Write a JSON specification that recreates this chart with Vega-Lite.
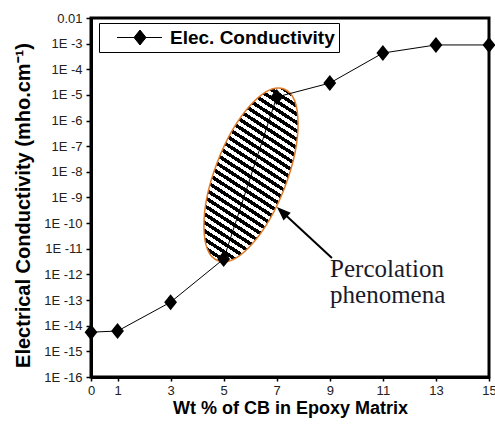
{
  "$schema": "https://vega.github.io/schema/vega-lite/v6.json",
  "width": 398,
  "height": 359,
  "autosize": "none",
  "padding": {"left": 91, "top": 18, "right": 6, "bottom": 57},
  "background": "white",
  "config": {
    "view": {"stroke": "black", "strokeWidth": 3},
    "font": "Liberation Sans",
    "axis": {
      "grid": false,
      "domainColor": "black",
      "domainWidth": 3,
      "tickColor": "black",
      "tickWidth": 1.5,
      "labelFont": "Liberation Sans",
      "labelFontSize": 13,
      "labelColor": "#222",
      "titleFont": "Liberation Sans",
      "titleFontWeight": "bold",
      "titleColor": "black"
    }
  },
  "layer": [
    {
      "data": {"values": [{"wt": 6.03, "ec": 7.6e-9}]},
      "mark": {
        "type": "point",
        "filled": true,
        "opacity": 1,
        "shape": "M0.330,-0.859A0.92,0.36,-69,0,1,0.336,0.129A0.92,0.36,-69,0,1,-0.330,0.859A0.92,0.36,-69,0,1,-0.336,-0.129A0.92,0.36,-69,0,1,0.330,-0.859Z",
        "size": 40000,
        "stroke": "#E07B28",
        "strokeWidth": 1.5,
        "strokeOpacity": 1,
        "fillOpacity": 1,
        "fill": {
          "gradient": "linear",
          "x1": 0.711, "y1": -0.102, "x2": 0.289, "y2": 1.102,
          "stops": [
            {"offset": 0, "color": "black"}, {"offset": 0.0179, "color": "black"}, {"offset": 0.0179, "color": "white"}, {"offset": 0.0357, "color": "white"},
            {"offset": 0.0357, "color": "black"}, {"offset": 0.0536, "color": "black"}, {"offset": 0.0536, "color": "white"}, {"offset": 0.0714, "color": "white"},
            {"offset": 0.0714, "color": "black"}, {"offset": 0.0893, "color": "black"}, {"offset": 0.0893, "color": "white"}, {"offset": 0.1071, "color": "white"},
            {"offset": 0.1071, "color": "black"}, {"offset": 0.125, "color": "black"}, {"offset": 0.125, "color": "white"}, {"offset": 0.1429, "color": "white"},
            {"offset": 0.1429, "color": "black"}, {"offset": 0.1607, "color": "black"}, {"offset": 0.1607, "color": "white"}, {"offset": 0.1786, "color": "white"},
            {"offset": 0.1786, "color": "black"}, {"offset": 0.1964, "color": "black"}, {"offset": 0.1964, "color": "white"}, {"offset": 0.2143, "color": "white"},
            {"offset": 0.2143, "color": "black"}, {"offset": 0.2321, "color": "black"}, {"offset": 0.2321, "color": "white"}, {"offset": 0.25, "color": "white"},
            {"offset": 0.25, "color": "black"}, {"offset": 0.2679, "color": "black"}, {"offset": 0.2679, "color": "white"}, {"offset": 0.2857, "color": "white"},
            {"offset": 0.2857, "color": "black"}, {"offset": 0.3036, "color": "black"}, {"offset": 0.3036, "color": "white"}, {"offset": 0.3214, "color": "white"},
            {"offset": 0.3214, "color": "black"}, {"offset": 0.3393, "color": "black"}, {"offset": 0.3393, "color": "white"}, {"offset": 0.3571, "color": "white"},
            {"offset": 0.3571, "color": "black"}, {"offset": 0.375, "color": "black"}, {"offset": 0.375, "color": "white"}, {"offset": 0.3929, "color": "white"},
            {"offset": 0.3929, "color": "black"}, {"offset": 0.4107, "color": "black"}, {"offset": 0.4107, "color": "white"}, {"offset": 0.4286, "color": "white"},
            {"offset": 0.4286, "color": "black"}, {"offset": 0.4464, "color": "black"}, {"offset": 0.4464, "color": "white"}, {"offset": 0.4643, "color": "white"},
            {"offset": 0.4643, "color": "black"}, {"offset": 0.4821, "color": "black"}, {"offset": 0.4821, "color": "white"}, {"offset": 0.5, "color": "white"},
            {"offset": 0.5, "color": "black"}, {"offset": 0.5179, "color": "black"}, {"offset": 0.5179, "color": "white"}, {"offset": 0.5357, "color": "white"},
            {"offset": 0.5357, "color": "black"}, {"offset": 0.5536, "color": "black"}, {"offset": 0.5536, "color": "white"}, {"offset": 0.5714, "color": "white"},
            {"offset": 0.5714, "color": "black"}, {"offset": 0.5893, "color": "black"}, {"offset": 0.5893, "color": "white"}, {"offset": 0.6071, "color": "white"},
            {"offset": 0.6071, "color": "black"}, {"offset": 0.625, "color": "black"}, {"offset": 0.625, "color": "white"}, {"offset": 0.6429, "color": "white"},
            {"offset": 0.6429, "color": "black"}, {"offset": 0.6607, "color": "black"}, {"offset": 0.6607, "color": "white"}, {"offset": 0.6786, "color": "white"},
            {"offset": 0.6786, "color": "black"}, {"offset": 0.6964, "color": "black"}, {"offset": 0.6964, "color": "white"}, {"offset": 0.7143, "color": "white"},
            {"offset": 0.7143, "color": "black"}, {"offset": 0.7321, "color": "black"}, {"offset": 0.7321, "color": "white"}, {"offset": 0.75, "color": "white"},
            {"offset": 0.75, "color": "black"}, {"offset": 0.7679, "color": "black"}, {"offset": 0.7679, "color": "white"}, {"offset": 0.7857, "color": "white"},
            {"offset": 0.7857, "color": "black"}, {"offset": 0.8036, "color": "black"}, {"offset": 0.8036, "color": "white"}, {"offset": 0.8214, "color": "white"},
            {"offset": 0.8214, "color": "black"}, {"offset": 0.8393, "color": "black"}, {"offset": 0.8393, "color": "white"}, {"offset": 0.8571, "color": "white"},
            {"offset": 0.8571, "color": "black"}, {"offset": 0.875, "color": "black"}, {"offset": 0.875, "color": "white"}, {"offset": 0.8929, "color": "white"},
            {"offset": 0.8929, "color": "black"}, {"offset": 0.9107, "color": "black"}, {"offset": 0.9107, "color": "white"}, {"offset": 0.9286, "color": "white"},
            {"offset": 0.9286, "color": "black"}, {"offset": 0.9464, "color": "black"}, {"offset": 0.9464, "color": "white"}, {"offset": 0.9643, "color": "white"},
            {"offset": 0.9643, "color": "black"}, {"offset": 0.9821, "color": "black"}, {"offset": 0.9821, "color": "white"}, {"offset": 1, "color": "white"}
          ]
        }
      },
      "encoding": {
        "x": {"field": "wt", "type": "quantitative", "scale": {"domain": [0, 15], "nice": false, "zero": false},
          "axis": {"title": "Wt % of CB in Epoxy Matrix", "values": [0, 1, 3, 5, 7, 9, 11, 13, 15], "tickSize": 4, "labelPadding": 3, "titleFontSize": 18, "titlePadding": 2, "labelFlush": false}},
        "y": {"field": "ec", "type": "quantitative", "scale": {"type": "log", "domain": [1e-16, 0.01], "nice": false},
          "axis": {"title": "Electrical Conductivity (mho.cm⁻¹)", "values": [1e-16, 1e-15, 1e-14, 1e-13, 1e-12, 1e-11, 1e-10, 1e-9, 1e-8, 1e-7, 1e-6, 1e-5, 1e-4, 1e-3, 1e-2],
            "labelExpr": "datum.value > 0.005 ? '0.01' : '1E -' + round(-log(datum.value)/LN10)", "tickSize": 5, "labelPadding": 4, "titleFontSize": 20, "titlePadding": 10, "titleY": 187, "labelFlush": false}}
      }
    },
    {
      "data": {"name": "main", "values": [
        {"wt": 0, "ec": 5.6e-15, "s": "Elec. Conductivity"},
        {"wt": 1, "ec": 6.2e-15, "s": "Elec. Conductivity"},
        {"wt": 3, "ec": 8.3e-14, "s": "Elec. Conductivity"},
        {"wt": 5, "ec": 4e-12, "s": "Elec. Conductivity"},
        {"wt": 7, "ec": 8.3e-6, "s": "Elec. Conductivity"},
        {"wt": 9, "ec": 2.9e-5, "s": "Elec. Conductivity"},
        {"wt": 11, "ec": 4.3e-4, "s": "Elec. Conductivity"},
        {"wt": 13, "ec": 8.9e-4, "s": "Elec. Conductivity"},
        {"wt": 15, "ec": 8.9e-4, "s": "Elec. Conductivity"}
      ]},
      "layer": [
        {
          "mark": {"type": "line", "color": "black", "strokeWidth": 1},
          "encoding": {
            "x": {"field": "wt", "type": "quantitative"},
            "y": {"field": "ec", "type": "quantitative"}
          }
        },
        {
          "mark": {"type": "point", "filled": true, "opacity": 1, "shape": "M0,-1L0.8,0L0,1L-0.8,0Z", "size": 256},
          "encoding": {
            "x": {"field": "wt", "type": "quantitative"},
            "y": {"field": "ec", "type": "quantitative"},
            "color": {"field": "s", "type": "nominal", "scale": {"range": ["black"]},
              "legend": {
                "title": null,
                "orient": "none",
                "legendX": 8,
                "legendY": 5,
                "padding": 4,
                "strokeColor": "black",
                "fillColor": "white",
                "symbolType": "M-2.3,0H2.2M0,-0.75L0.6,0L0,0.75L-0.6,0Z",
                "symbolSize": 400,
                "symbolStrokeColor": "black",
                "symbolFillColor": "black",
                "symbolStrokeWidth": 1,
                "symbolOffset": 26.5,
                "labelOffset": 19.5,
                "labelLimit": 400,
                "labelFont": "Liberation Sans",
                "labelFontWeight": "bold",
                "labelFontSize": 19,
                "labelColor": "black"
              }}
          }
        }
      ]
    },
    {
      "data": {"values": [{"wt": 9.08, "ec": 4.4e-12, "wt2": 7.34, "ec2": 2.04e-10}]},
      "mark": {"type": "rule", "color": "black", "strokeWidth": 2},
      "encoding": {
        "x": {"field": "wt", "type": "quantitative"},
        "y": {"field": "ec", "type": "quantitative"},
        "x2": {"field": "wt2"},
        "y2": {"field": "ec2"}
      }
    },
    {
      "data": {"values": [{"wt": 7.2, "ec": 2.75e-10}]},
      "mark": {"type": "point", "filled": true, "opacity": 1, "color": "black", "shape": "M0,-1L0.75,1L-0.75,1Z", "size": 196, "angle": 313},
      "encoding": {
        "x": {"field": "wt", "type": "quantitative"},
        "y": {"field": "ec", "type": "quantitative"}
      }
    },
    {
      "data": {"values": [{"wt": 9.01, "ec": 7.9e-13, "t": "Percolation"}, {"wt": 9.01, "ec": 7.6e-14, "t": "phenomena"}]},
      "mark": {"type": "text", "align": "left", "baseline": "alphabetic", "font": "Liberation Serif", "fontSize": 25, "color": "#1a1a2a"},
      "encoding": {
        "x": {"field": "wt", "type": "quantitative"},
        "y": {"field": "ec", "type": "quantitative"},
        "text": {"field": "t"}
      }
    }
  ]
}
